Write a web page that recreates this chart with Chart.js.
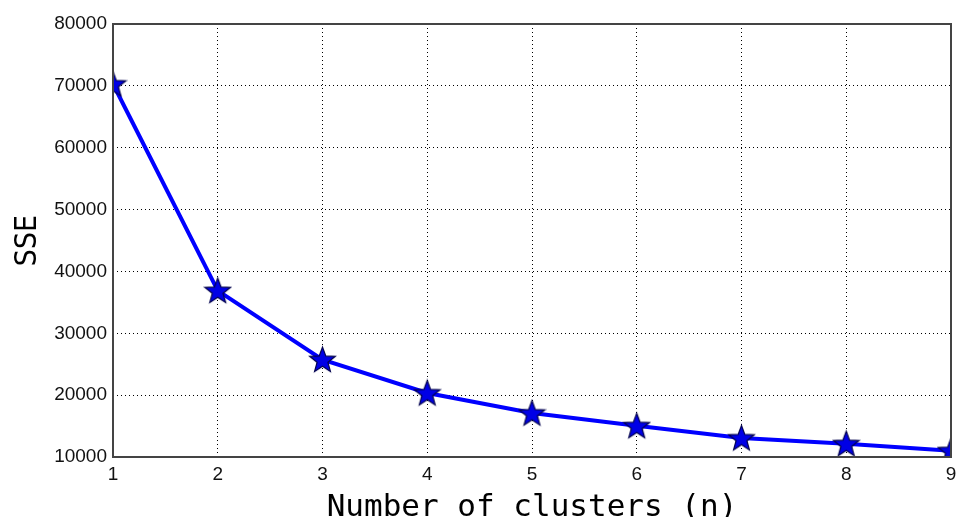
<!DOCTYPE html>
<html>
<head>
<meta charset="utf-8">
<script src="https://cdn.jsdelivr.net/npm/chart.js@4"></script>
<style>
  html, body { margin: 0; padding: 0; background: #fff; }
  #wrap { width: 957px; height: 517px; }
</style>
</head>
<body>
<div id="wrap"><canvas id="elbow" width="957" height="517"></canvas></div>
<script>
// data
const clusters = [1, 2, 3, 4, 5, 6, 7, 8, 9];
const sse = [70300, 36900, 25750, 20350, 17100, 15050, 13080, 12150, 11020];
const yTicks = [10000, 20000, 30000, 40000, 50000, 60000, 70000, 80000];
const xTitle = 'Number of clusters (n)';
const yTitle = 'SSE';

// filled five point star, used as the point marker
function makeStar(size) {
    const c = document.createElement('canvas');
    c.width = size; c.height = size;
    const g = c.getContext('2d');
    const cx = size / 2, cy = size / 2 + 1;
    const ro = size / 2 - 1, ri = ro * 0.42;
    g.beginPath();
    for (let i = 0; i < 10; i++) {
        const r = i % 2 === 0 ? ro : ri;
        const a = -Math.PI / 2 + i * Math.PI / 5;
        const px = cx + r * Math.cos(a), py = cy + r * Math.sin(a);
        if (i === 0) g.moveTo(px, py); else g.lineTo(px, py);
    }
    g.closePath();
    g.fillStyle = '#0000e6';
    g.fill();
    g.lineWidth = 1.2;
    g.strokeStyle = '#00004d';
    g.stroke();
    return c;
}
const star = makeStar(29);

// box round the plot area like matplotlib
const frame = {
    id: 'frame',
    afterDraw(chart) {
        const a = chart.chartArea, ctx = chart.ctx;
        ctx.save();
        ctx.strokeStyle = '#444';
        ctx.lineWidth = 2;
        ctx.strokeRect(a.left, a.top, a.right - a.left, a.bottom - a.top);
        ctx.restore();
    }
};

const grid = {
    color: '#000',
    lineWidth: 1,
    drawTicks: false
};

new Chart(document.getElementById('elbow').getContext('2d'), {
    type: 'line',
    data: {
        datasets: [{
            data: clusters.map((x, i) => ({ x: x, y: sse[i] })),
            borderColor: '#0000ff',
            borderWidth: 4,
            tension: 0,
            pointStyle: star,
            pointRadius: 12,
            clip: 0
        }]
    },
    options: {
        responsive: false,
        animation: false,
        layout: { autoPadding: false, padding: { top: 24, right: 0, left: 0, bottom: 0 } },
        plugins: { legend: { display: false }, tooltip: { enabled: false } },
        scales: {
            x: {
                type: 'linear', min: 1, max: 9,
                afterFit: s => { s.height = 60; s.paddingLeft = 0; s.paddingRight = 6; },
                grid: grid,
                border: { display: false, dash: [1, 3] },
                ticks: { stepSize: 1, padding: 6, color: '#111', font: { family: 'Liberation Sans', size: 19 } },
                title: {
                    display: true, text: xTitle, color: '#000', padding: { top: 0, bottom: -10 },
                    font: { family: 'DejaVu Sans Mono', size: 31 }
                }
            },
            y: {
                min: 10000, max: 80000,
                afterFit: s => { s.width = 113; s.paddingTop = 0; s.paddingBottom = 0; },
                afterBuildTicks: s => { s.ticks = yTicks.map(v => ({ value: v })); },
                grid: grid,
                border: { display: false, dash: [1, 3] },
                ticks: {
                    padding: 6, color: '#111', font: { family: 'Liberation Sans', size: 19 },
                    callback: v => String(v)
                },
                title: {
                    display: true, text: yTitle, color: '#000', padding: { top: 10, bottom: 0 },
                    font: { family: "'DejaVu Sans Condensed', 'Liberation Sans'", size: 30 }
                }
            }
        }
    },
    plugins: [frame]
});
</script>
</body>
</html>
